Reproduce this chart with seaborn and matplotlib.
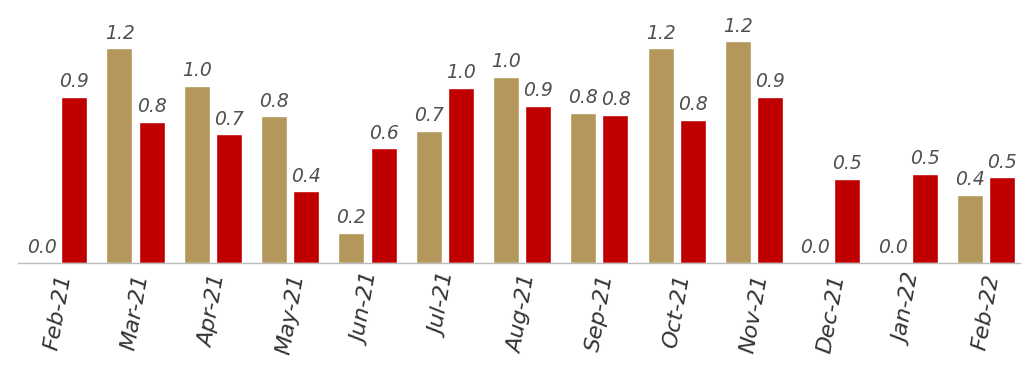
import pandas as pd
import numpy as np
import matplotlib
matplotlib.use("Agg")
import matplotlib.pyplot as plt
import seaborn as sns

# data
months = ['Feb-21', 'Mar-21', 'Apr-21', 'May-21', 'Jun-21', 'Jul-21', 'Aug-21',
          'Sep-21', 'Oct-21', 'Nov-21', 'Dec-21', 'Jan-22', 'Feb-22']
gold_vals = [0.0, 1.20, 0.99, 0.82, 0.17, 0.74, 1.04, 0.84, 1.20, 1.24, 0.0, 0.0, 0.38]
red_vals = [0.93, 0.79, 0.72, 0.40, 0.64, 0.98, 0.88, 0.83, 0.80, 0.93, 0.47, 0.50, 0.48]
series = ['A', 'B']

df = pd.DataFrame({
    'month': months * 2,
    'value': gold_vals + red_vals,
    'series': [series[0]] * len(months) + [series[1]] * len(months),
})

sns.set_style("white")
plt.rcParams['font.family'] = ['DejaVu Sans']

fig = plt.figure(figsize=(10.24, 3.65), dpi=100)
ax = fig.add_axes([18 / 1024, 102 / 365, 1002 / 1024, 263 / 365])

sns.barplot(
    data=df, x='month', y='value', hue='series',
    palette=['#B4975A', '#C00000'], width=0.83, gap=0.19,
    legend=False, ax=ax, saturation=1,
)

for cont in ax.containers:
    ax.bar_label(cont, fmt='%.1f', padding=4, fontsize=13.5,
                 fontstyle='italic', color='#505050')

ax.set_xlim(-0.52, 12.44)
ax.set_ylim(0, 1.47)
ax.set_xlabel('')
ax.set_ylabel('')
ax.set_yticks([])
ax.tick_params(axis='x', length=0, pad=7)
plt.setp(ax.get_xticklabels(), rotation=80, ha='center', va='top',
         fontsize=16, fontstyle='italic', color='#333333')

for s in ['top', 'right', 'left']:
    ax.spines[s].set_visible(False)
ax.spines['bottom'].set_color('#BBBBBB')
ax.spines['bottom'].set_linewidth(1)

fig.savefig('out.png', dpi=100)
